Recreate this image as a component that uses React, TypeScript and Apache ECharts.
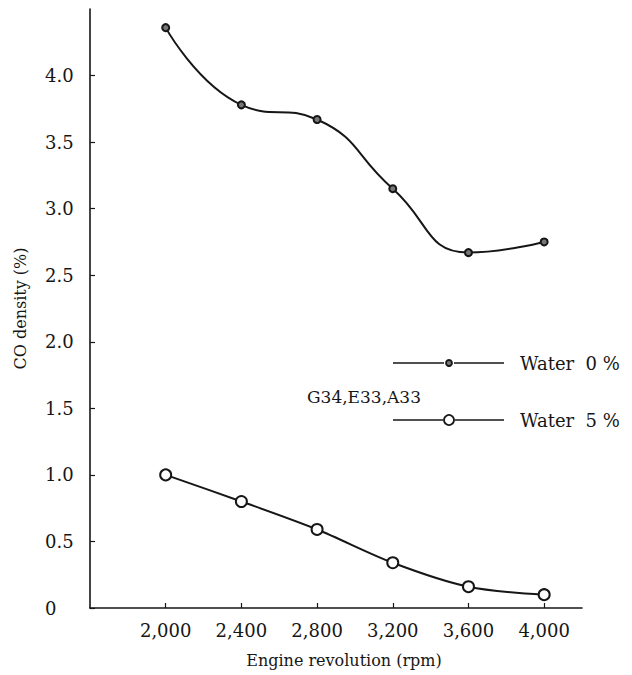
import React, { useEffect, useRef } from "react";
import * as echarts from "echarts";

const rpm = [2000, 2400, 2800, 3200, 3600, 4000];
const water0 = [4.36, 3.78, 3.67, 3.15, 2.67, 2.75];
const water5 = [1.0, 0.8, 0.59, 0.34, 0.16, 0.1];
const yTicks = [0, 0.5, 1.0, 1.5, 2.0, 2.5, 3.0, 3.5, 4.0];
const seriesNames = ["Water  0 %", "Water  5 %"];
const noteText = "G34,E33,A33";
const xTitle = "Engine revolution (rpm)";
const yTitle = "CO density (%)";

const FONT = "'DejaVu Serif', 'Liberation Serif', serif";
const INK = "#161616";

export default function App() {
  const ref = useRef<HTMLDivElement>(null);
  useEffect(() => {
    document.body.style.margin = "0";
    if (!ref.current) return;
    const chart = echarts.init(ref.current, undefined, { renderer: "svg" });
    const toPairs = (ys: number[]) => rpm.map((x, i) => [x, ys[i]]);
    chart.setOption({
      animation: false,
      backgroundColor: "#ffffff",
      grid: { left: 90, right: 50, top: 9, bottom: 67, containLabel: false },
      xAxis: {
        type: "value",
        min: 1600,
        max: 4200,
        interval: 400,
        name: xTitle,
        nameLocation: "middle",
        nameGap: 44,
        nameTextStyle: { fontFamily: FONT, fontSize: 16, color: INK, padding: [0, 0, 0, 16] },
        axisLine: { show: true, onZero: false, lineStyle: { color: INK, width: 1.6 } },
        axisTick: { show: true, inside: true, length: 5, customValues: rpm, lineStyle: { color: INK, width: 1.2 } },
        axisLabel: {
          customValues: rpm,
          margin: 13,
          fontFamily: FONT,
          fontSize: 18,
          color: INK,
          formatter: (v: number) => v.toLocaleString("en-US"),
        },
        splitLine: { show: false },
      },
      yAxis: {
        type: "value",
        min: 0,
        max: 4.5,
        interval: 0.5,
        name: yTitle,
        nameLocation: "middle",
        nameGap: 62,
        nameTextStyle: { fontFamily: FONT, fontSize: 16, color: INK },
        axisLine: { show: true, lineStyle: { color: INK, width: 1.6 } },
        axisTick: { show: true, inside: true, length: 5, customValues: yTicks, lineStyle: { color: INK, width: 1.2 } },
        axisLabel: {
          customValues: yTicks,
          align: "left",
          margin: 45,
          fontFamily: FONT,
          fontSize: 18,
          color: INK,
          formatter: (v: number) => (v === 0 ? "0" : v.toFixed(1)),
        },
        splitLine: { show: false },
      },
      graphic: [
        { type: "line", shape: { x1: 393, y1: 363, x2: 444, y2: 363 }, style: { stroke: INK, lineWidth: 1.5 } },
        { type: "line", shape: { x1: 454, y1: 363, x2: 504, y2: 363 }, style: { stroke: INK, lineWidth: 1.5 } },
        { type: "circle", shape: { cx: 449, cy: 363, r: 3 }, style: { fill: "#777", stroke: INK, lineWidth: 1.8 } },
        { type: "text", x: 520, y: 363, style: { text: seriesNames[0], font: `18px ${FONT}`, fill: INK, textVerticalAlign: "middle", verticalAlign: "middle" } },
        { type: "text", x: 307, y: 397, style: { text: noteText, font: `17px ${FONT}`, fill: INK, verticalAlign: "middle" } },
        { type: "line", shape: { x1: 393, y1: 420, x2: 443, y2: 420 }, style: { stroke: INK, lineWidth: 1.5 } },
        { type: "line", shape: { x1: 455, y1: 420, x2: 504, y2: 420 }, style: { stroke: INK, lineWidth: 1.5 } },
        { type: "circle", shape: { cx: 449, cy: 420, r: 5 }, style: { fill: "#fff", stroke: INK, lineWidth: 1.8 } },
        { type: "text", x: 520, y: 420, style: { text: seriesNames[1], font: `18px ${FONT}`, fill: INK, verticalAlign: "middle" } },
      ],
      series: [
        {
          name: seriesNames[0],
          type: "line",
          data: toPairs(water0),
          smooth: 0.5,
          symbol: "circle",
          symbolSize: 7,
          lineStyle: { color: INK, width: 2 },
          itemStyle: { color: "#777", borderColor: INK, borderWidth: 2 },
          z: 3,
        },
        {
          name: seriesNames[1],
          type: "line",
          data: toPairs(water5),
          smooth: 0.3,
          symbol: "circle",
          symbolSize: 11,
          lineStyle: { color: INK, width: 2 },
          itemStyle: { color: "#fff", borderColor: INK, borderWidth: 2 },
          z: 3,
        },
      ],
    });
    return () => chart.dispose();
  }, []);
  return <div ref={ref} style={{ position: "absolute", left: 0, top: 0, width: 632, height: 675 }} />;
}
